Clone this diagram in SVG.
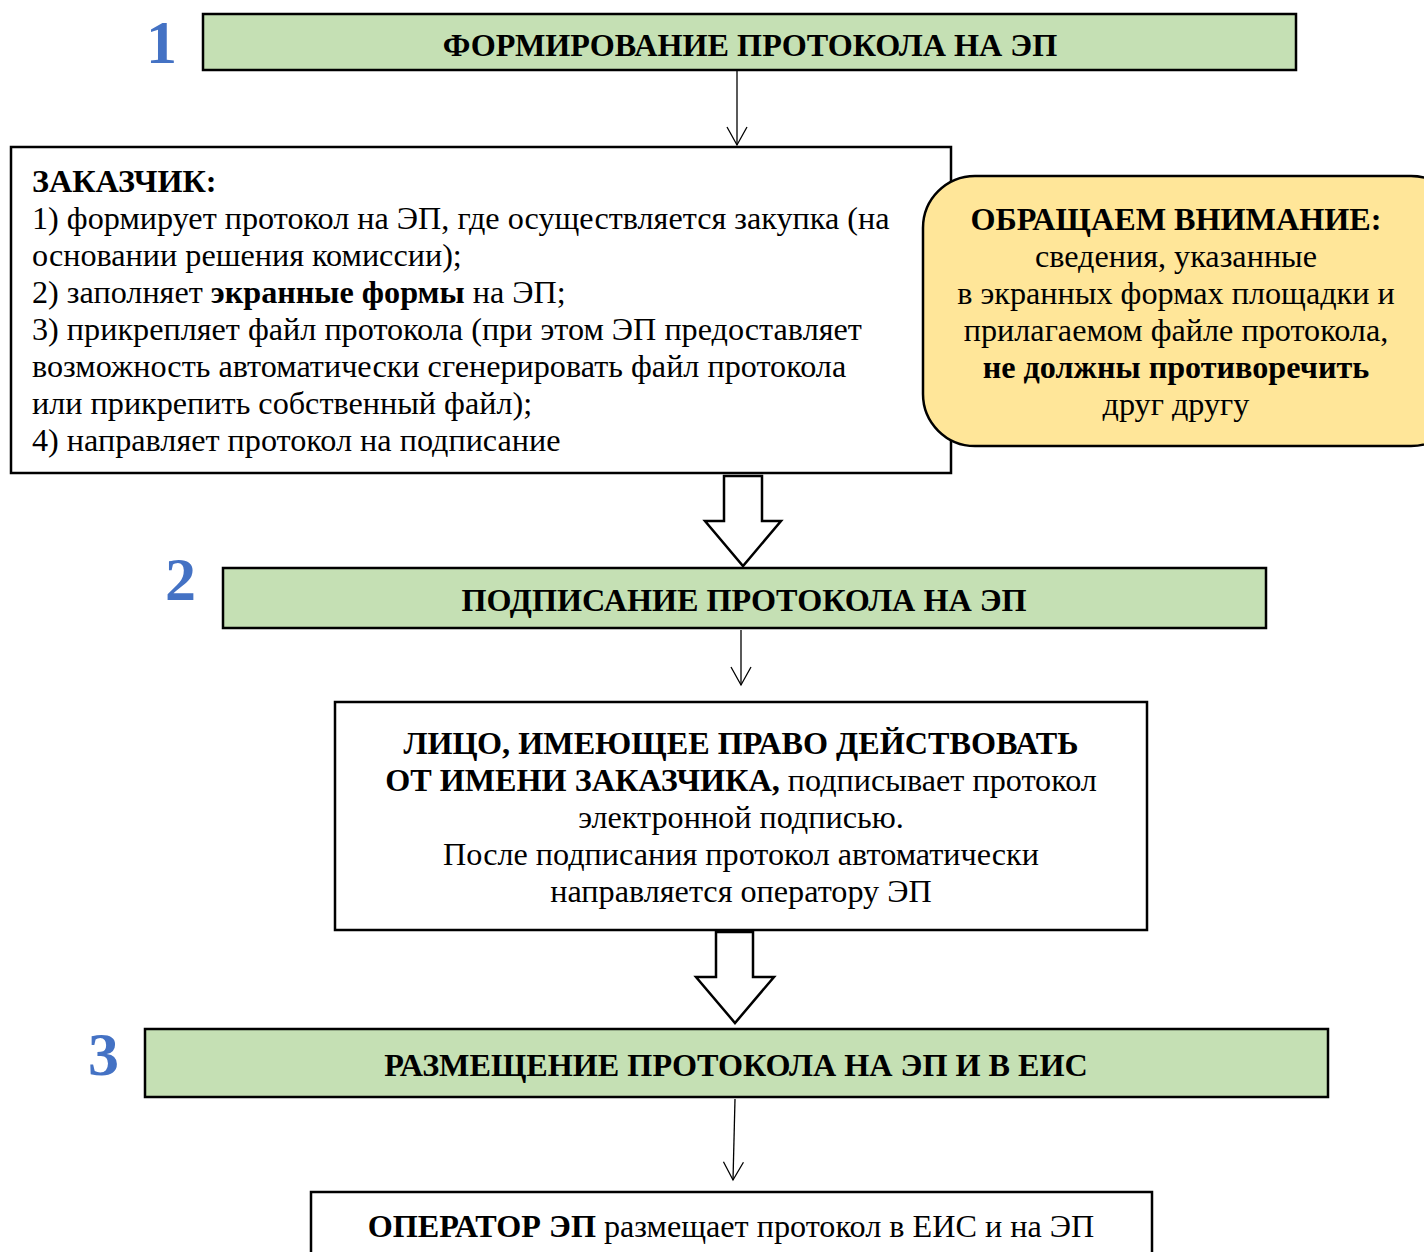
<svg xmlns="http://www.w3.org/2000/svg" width="1424" height="1252" viewBox="0 0 1424 1252">
<defs>
<style>
text{font-family:"Liberation Serif","Times New Roman",serif;fill:#000}
.hdr{fill:#C5E0B4;stroke:#000;stroke-width:2.5}
.box{fill:#fff;stroke:#000;stroke-width:2.5}
.note{fill:#FFE699;stroke:#000;stroke-width:2.5}
.num{font-size:62px;font-weight:bold;fill:#4472C4}
.ht{font-size:32.2px;font-weight:bold;text-anchor:middle}
.bt{font-size:32.2px}
.ct{font-size:32.2px;text-anchor:middle}
.b{font-weight:bold}
.ln{stroke:#000;stroke-width:1.3;fill:none}
.blk{fill:#fff;stroke:#000;stroke-width:2.5;stroke-linejoin:miter}
</style>
<marker id="v" markerWidth="24" markerHeight="24" viewBox="0 0 24 24" refX="20" refY="12" orient="auto" markerUnits="userSpaceOnUse">
<path d="M2,2 L20,12 L2,22" fill="none" stroke="#000" stroke-width="1.3"/>
</marker>
</defs>

<g id="step1">
<text class="num" x="146" y="63">1</text>
<rect class="hdr" x="203" y="14" width="1093" height="56"/>
<text class="ht" x="750" y="56">ФОРМИРОВАНИЕ ПРОТОКОЛА НА ЭП</text>
</g>

<g id="customer">
<rect class="box" x="11" y="147" width="940" height="326"/>
<text class="bt" x="32" y="192"><tspan class="b">ЗАКАЗЧИК:</tspan></text>
<text class="bt" x="32" y="229">1) формирует протокол на ЭП, где осуществляется закупка (на</text>
<text class="bt" x="32" y="266">основании решения комиссии);</text>
<text class="bt" x="32" y="303">2) заполняет <tspan class="b">экранные формы</tspan> на ЭП;</text>
<text class="bt" x="32" y="340">3) прикрепляет файл протокола (при этом ЭП предоставляет</text>
<text class="bt" x="32" y="377">возможность автоматически сгенерировать файл протокола</text>
<text class="bt" x="32" y="414">или прикрепить собственный файл);</text>
<text class="bt" x="32" y="451">4) направляет протокол на подписание</text>
</g>

<g id="note">
<rect class="note" x="923" y="176" width="540" height="270" rx="52" ry="52"/>
<text class="ct b" x="1176" y="230">ОБРАЩАЕМ ВНИМАНИЕ:</text>
<text class="ct" x="1176" y="267">сведения, указанные</text>
<text class="ct" x="1176" y="304">в экранных формах площадки и</text>
<text class="ct" x="1176" y="341">прилагаемом файле протокола,</text>
<text class="ct b" x="1176" y="378">не должны противоречить</text>
<text class="ct" x="1176" y="415">друг другу</text>
</g>

<g id="step2">
<text class="num" x="165" y="600">2</text>
<rect class="hdr" x="223" y="568" width="1043" height="60"/>
<text class="ht" x="744" y="611">ПОДПИСАНИЕ ПРОТОКОЛА НА ЭП</text>
</g>

<g id="signer">
<rect class="box" x="335" y="702" width="812" height="228"/>
<text class="ct b" x="741" y="754">ЛИЦО, ИМЕЮЩЕЕ ПРАВО ДЕЙСТВОВАТЬ</text>
<text class="ct" x="741" y="791"><tspan class="b">ОТ ИМЕНИ ЗАКАЗЧИКА,</tspan> подписывает протокол</text>
<text class="ct" x="741" y="828">электронной подписью.</text>
<text class="ct" x="741" y="865">После подписания протокол автоматически</text>
<text class="ct" x="741" y="902">направляется оператору ЭП</text>
</g>

<g id="step3">
<text class="num" x="88" y="1075">3</text>
<rect class="hdr" x="145" y="1029" width="1183" height="68"/>
<text class="ht" x="736" y="1076">РАЗМЕЩЕНИЕ ПРОТОКОЛА НА ЭП И В ЕИС</text>
</g>

<g id="operator">
<rect class="box" x="311" y="1192" width="841" height="80"/>
<text class="ct" x="731" y="1237"><tspan class="b">ОПЕРАТОР ЭП</tspan> размещает протокол в ЕИС и на ЭП</text>
</g>

<g id="connectors">
<line class="ln" x1="737" y1="71" x2="737" y2="145" marker-end="url(#v)"/>
<path class="blk" d="M724,476 L762,476 L762,521 L781,521 L743,566 L705,521 L724,521 Z"/>
<line class="ln" x1="741" y1="630" x2="741" y2="685" marker-end="url(#v)"/>
<path class="blk" d="M716,932 L753,932 L753,977 L774,977 L735,1023 L696,977 L716,977 Z"/>
<line class="ln" x1="735" y1="1099" x2="733" y2="1180" marker-end="url(#v)"/>
</g>
</svg>
